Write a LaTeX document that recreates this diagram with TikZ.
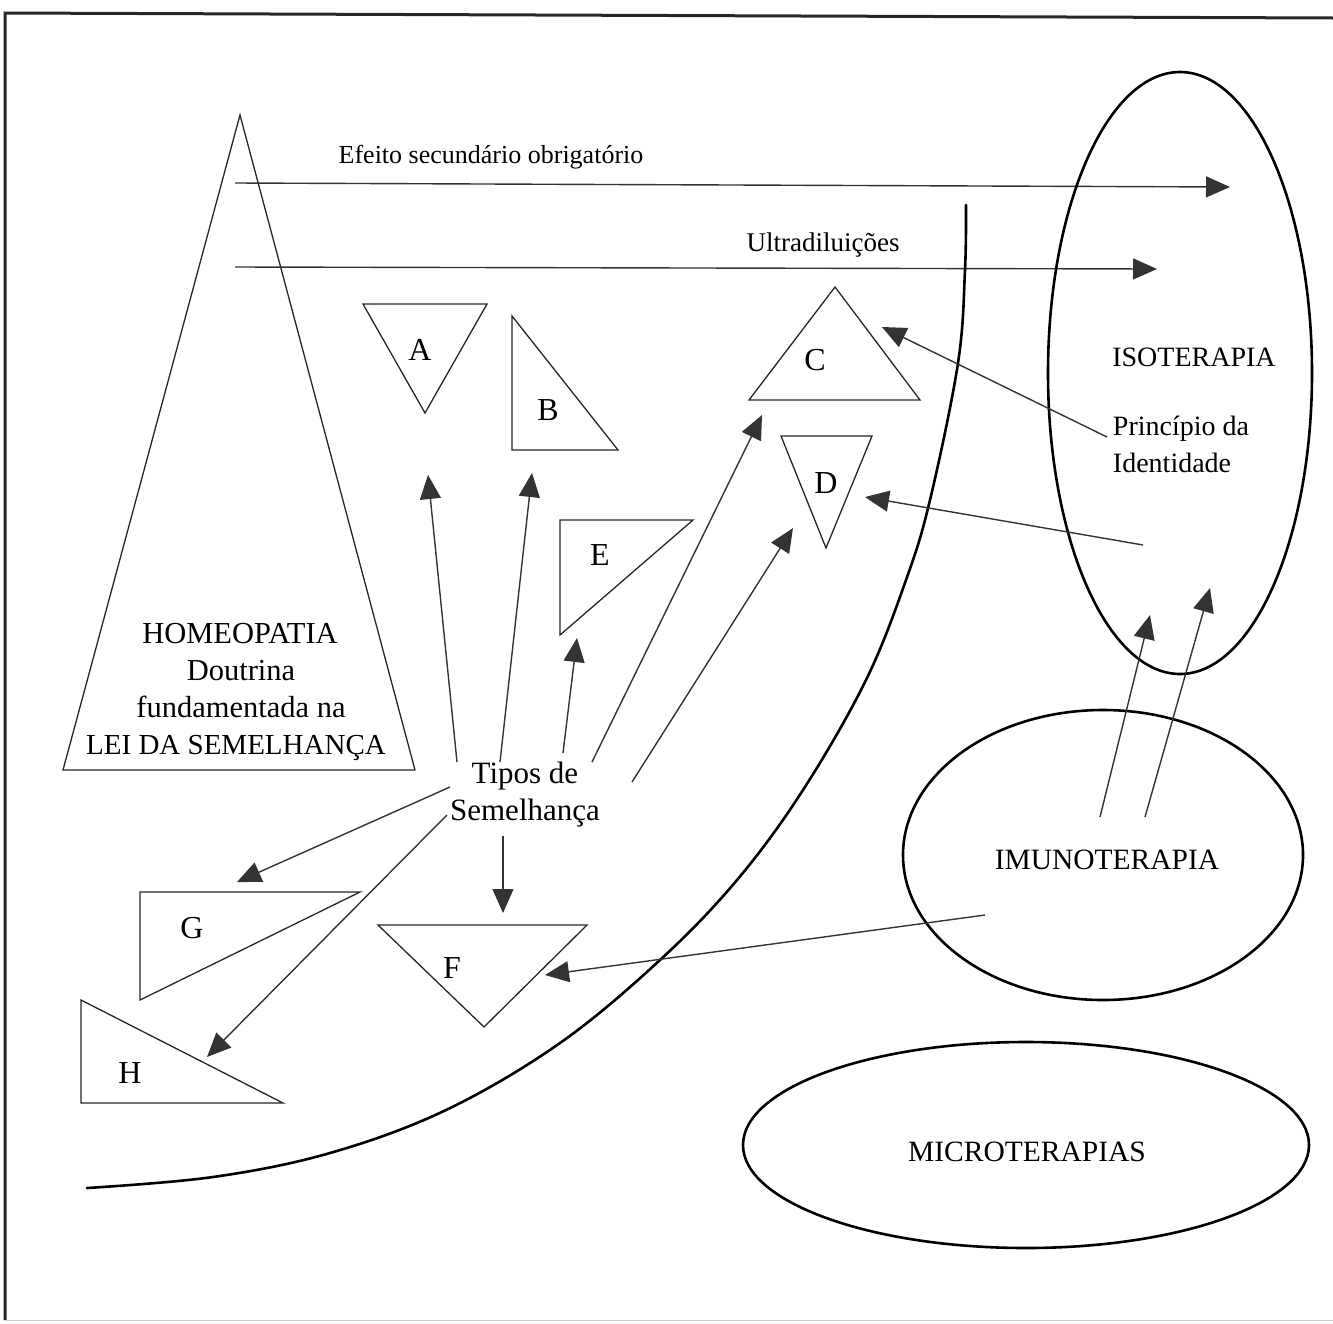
\documentclass[tikz,border=0pt]{standalone}
\usepackage{fontspec}
\setmainfont{Liberation Serif}
\usetikzlibrary{arrows.meta}
\begin{document}
\begin{tikzpicture}[x=1pt,y=-1pt,
  tri/.style={draw=black!85, line width=1.3pt, line join=miter},
  conn/.style={draw=black!80, line width=1.4pt, -{Triangle[length=24pt,width=21pt]}},
  heavy/.style={draw=black, line width=2.6pt},
  big/.style={font=\fontsize{30.5}{37}\selectfont, inner sep=0pt, anchor=base},
  mid/.style={font=\fontsize{28}{37}\selectfont, inner sep=0pt, align=left},
  ell/.style={font=\fontsize{29.5}{37}\selectfont, inner sep=0pt},
  small/.style={font=\fontsize{26}{30}\selectfont, inner sep=0pt},
  letter/.style={font=\fontsize{32}{32}\selectfont, inner sep=0pt},
  tipos/.style={font=\fontsize{31}{37}\selectfont, inner sep=0pt, align=center}
]
\useasboundingbox (0,0) rectangle (1333,1323);
% frame
\draw[line width=3pt, black!85] (5,1320) -- (5,13) -- (1333,18);
\draw[line width=1pt, black!20] (5,1320) -- (1333,1320);

% big triangle HOMEOPATIA
\draw[tri] (240,115) -- (63,770) -- (415,770) -- cycle;
\node[big] (homeo1) at (240,643) {HOMEOPATIA};
\node[big] (homeo2) at (241,680) {Doutrina};
\node[big] (homeo3) at (241,717) {fundamentada na};
\node[big, font=\fontsize{29}{37}\selectfont] (homeo4) at (236,754) {LEI DA SEMELHANÇA};

% horizontal arrows
\coordinate (e1) at (235,183);
\coordinate (e2) at (1230,187);
\coordinate (u1) at (235,267);
\coordinate (u2) at (1157,269);
\draw[conn] (e1) -- (e2);
\draw[conn] (u1) -- (u2);
\node[small] (efeito) at (491,157) {Efeito secundário obrigatório};
\node[small, font=\fontsize{27}{30}\selectfont] (ultra) at (823,245) {Ultradiluições};

% curve
\draw[heavy, line cap=round] plot[smooth, tension=0.6] coordinates {(966,205) (965,270) (958,363) (930,500) (906,580) (866,680) (803,790) (737,880) (660,960) (560,1043) (446,1110) (330,1153) (213,1177) (87,1188)};

% ellipses
\draw[heavy] (1180,373) ellipse [x radius=132pt, y radius=301pt];
\draw[heavy] (1103,855) ellipse [x radius=200pt, y radius=145pt];
\draw[heavy] (1026,1145) ellipse [x radius=283pt, y radius=103pt];
\node[mid] (iso) at (1194,357) {ISOTERAPIA};
\node[mid] (princ) at (1181,444) {Princípio da\\Identidade};
\node[ell] (imuno) at (1107,860) {IMUNOTERAPIA};
\node[ell] (micro) at (1027,1152) {MICROTERAPIAS};

% small triangles
\draw[tri] (363,304) -- (487,304) -- (425,413) -- cycle;
\node[letter] (A) at (420,350) {A};
\draw[tri] (512,316) -- (512,450) -- (618,450) -- cycle;
\node[letter] (B) at (548,410) {B};
\draw[tri] (835,287) -- (749,400) -- (920,400) -- cycle;
\node[letter] (C) at (815,360) {C};
\draw[tri] (781,436) -- (872,436) -- (826,548) -- cycle;
\node[letter] (D) at (826,483) {D};
\draw[tri] (560,520) -- (693,520) -- (560,635) -- cycle;
\node[letter] (E) at (600,555) {E};
\draw[tri] (378,925) -- (587,925) -- (484,1027) -- cycle;
\node[letter] (F) at (452,968) {F};
\draw[tri] (140,892) -- (360,892) -- (140,1000) -- cycle;
\node[letter] (G) at (192,928) {G};
\draw[tri] (81,1000) -- (81,1103) -- (283,1103) -- cycle;
\node[letter] (H) at (130,1073) {H};

% Tipos de Semelhança
\node[tipos] (tipos) at (525,795) {Tipos de\\Semelhança};

\coordinate (sA) at (457,762);  \coordinate (tA) at (428,475);
\coordinate (sB) at (500,762);  \coordinate (tB) at (532,473);
\coordinate (sE) at (563,753);  \coordinate (tE) at (577,638);
\coordinate (sC) at (592,762);  \coordinate (tC) at (762,415);
\coordinate (sD) at (632,782);  \coordinate (tD) at (793,528);
\coordinate (sG) at (450,787);  \coordinate (tG) at (237,882);
\coordinate (sH) at (447,815);  \coordinate (tH) at (207,1057);
\coordinate (sF) at (503,836);  \coordinate (tF) at (503,913);
\draw[conn] (sA) -- (tA);
\draw[conn] (sB) -- (tB);
\draw[conn] (sE) -- (tE);
\draw[conn] (sC) -- (tC);
\draw[conn] (sD) -- (tD);
\draw[conn] (sG) -- (tG);
\draw[conn] (sH) -- (tH);
\draw[conn] (sF) -- (tF);

% arrows from right side
\coordinate (pC) at (1107,437); \coordinate (aC) at (882,327);
\coordinate (pD) at (1143,545); \coordinate (aD) at (865,497);
\coordinate (i1) at (1100,817); \coordinate (j1) at (1150,615);
\coordinate (i2) at (1145,817); \coordinate (j2) at (1210,588);
\coordinate (iF) at (985,915);  \coordinate (aF) at (545,975);
\draw[conn] (pC) -- (aC);
\draw[conn] (pD) -- (aD);
\draw[conn] (i1) -- (j1);
\draw[conn] (i2) -- (j2);
\draw[conn] (iF) -- (aF);
\end{tikzpicture}
\end{document}
